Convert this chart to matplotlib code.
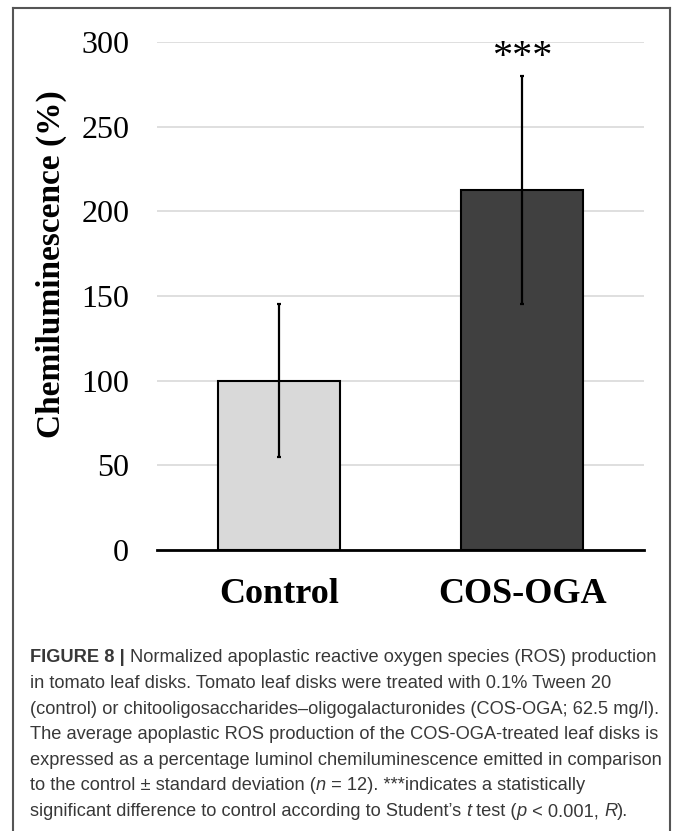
import matplotlib
matplotlib.use("Agg")
import matplotlib.pyplot as plt
from matplotlib import font_manager
from matplotlib.lines import Line2D
from matplotlib.text import Annotation

groups = ["Control", "COS-OGA"]
means = [100, 212.5]
sds = [45, 67.5]
bar_colors = ["#d9d9d9", "#404040"]
yticks = [0, 50, 100, 150, 200, 250, 300]
star_label = "***"
star_y = 291

caption_lines = [
    [("FIGURE 8 | ", "bold", "normal"), ("Normalized apoplastic reactive oxygen species (ROS) production", "normal", "normal")],
    [("in tomato leaf disks. Tomato leaf disks were treated with 0.1% Tween 20", "normal", "normal")],
    [("(control) or chitooligosaccharides\u2013oligogalacturonides (COS-OGA; 62.5 mg/l).", "normal", "normal")],
    [("The average apoplastic ROS production of the COS-OGA-treated leaf disks is", "normal", "normal")],
    [("expressed as a percentage luminol chemiluminescence emitted in comparison", "normal", "normal")],
    [("to the control \u00b1 standard deviation (", "normal", "normal"), ("n", "normal", "italic"),
     (" = 12). ***indicates a statistically", "normal", "normal")],
    [("significant difference to control according to Student\u2019s ", "normal", "normal"), ("t", "normal", "italic"),
     (" test (", "normal", "normal"), ("p", "normal", "italic"), (" < 0.001, ", "normal", "normal"),
     ("R", "normal", "italic"), (").", "normal", "normal")],
]

names = {f.name for f in font_manager.fontManager.ttflist}
cap_font = "Liberation Sans Narrow" if "Liberation Sans Narrow" in names else "Liberation Sans"
serif = "Liberation Serif"

fig = plt.figure(figsize=(6.73, 8.31), dpi=100)
ax = fig.add_axes([0.2333, 0.3381, 0.7237, 0.6114])

x = range(len(groups))
ax.bar(x, means, width=0.5, color=bar_colors, edgecolor="black", linewidth=1.5, zorder=3)
ax.errorbar(x, means, yerr=sds, fmt="none", ecolor="black", elinewidth=1.6,
            capsize=1.2, capthick=1.6, zorder=4)
ax.text(1, star_y, star_label, ha="center", va="center", fontsize=29, family=serif)

ax.set_xlim(-0.5, 1.5)
ax.set_ylim(0, 300)
ax.set_yticks(yticks)
ax.set_xticks(list(x))
ax.set_xticklabels(groups, family=serif, fontweight="bold", fontsize=26)
for lbl in ax.get_yticklabels():
    lbl.set_family(serif)
    lbl.set_fontsize(23)
ax.tick_params(axis="y", length=0, pad=20)
ax.tick_params(axis="x", length=0, pad=20)
ax.yaxis.grid(True, color="#d9d9d9", linewidth=1.2, zorder=0)
ax.set_axisbelow(True)
for s in ["top", "right", "left"]:
    ax.spines[s].set_visible(False)
ax.spines["bottom"].set_linewidth(2)
ax.spines["bottom"].set_zorder(5)
ax.set_ylabel("Chemiluminescence (%)", family=serif, fontweight="bold", fontsize=24)
ax.yaxis.set_label_coords(-0.185, 0.563)

# frame around the figure panel (open at the bottom)
W, H = 673, 831
fx = lambda px: px / W
fy = lambda py: 1 - py / H
for xs, ys in [([13, 13], [8, 831]), ([13, 670], [8, 8]), ([670, 670], [8, 831])]:
    fig.add_artist(Line2D([fx(v) for v in xs], [fy(v) for v in ys], color="#555555", linewidth=1.5))

# caption, drawn run by run so bold/italic pieces line up
line_y0 = 658
line_step = 25.6
max_width = 628


def draw_caption(size):
    arts = []
    for i, runs in enumerate(caption_lines):
        prev = None
        for txt, weight, style in runs:
            kw = dict(fontsize=size, family=cap_font, fontweight=weight, fontstyle=style,
                      color="#383838", va="center", ha="left")
            if prev is None:
                prev = fig.text(fx(30), fy(line_y0 + i * line_step), txt, **kw)
            else:
                prev = fig.add_artist(Annotation(txt, xy=(1, 0.5), xycoords=prev, **kw))
            arts.append(prev)
    return arts


size = 13.6
arts = draw_caption(size)
renderer = fig.canvas.get_renderer()
right = max(a.get_window_extent(renderer).x1 for a in arts)
if right - 30 > max_width:
    for a in arts:
        a.remove()
    size = size * max_width / (right - 30)
    draw_caption(size)

fig.savefig("out.png", dpi=100)
